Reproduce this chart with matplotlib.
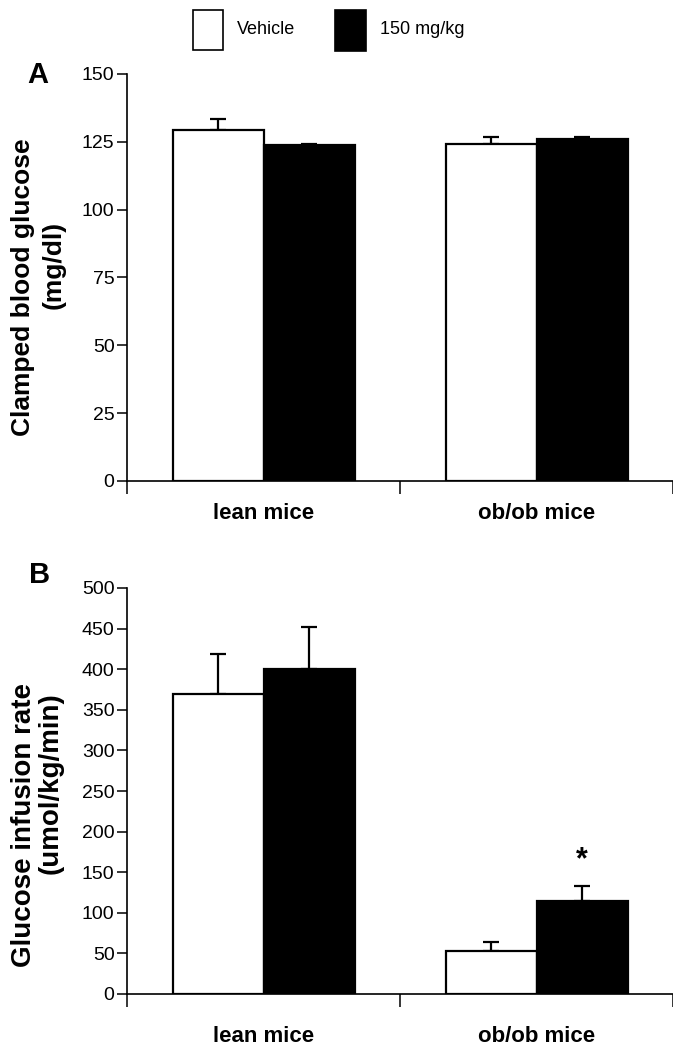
import matplotlib
matplotlib.use("Agg")
import matplotlib.pyplot as plt
import matplotlib.patches as mpatches
import numpy as np

plt.rcParams['font.family'] = ['Liberation Sans', 'DejaVu Sans']

groups = ["lean mice", "ob/ob mice"]
series = ["Vehicle", "150 mg/kg"]

# Panel A: clamped blood glucose (mg/dl)
a_vehicle = [129.4, 124.2]
a_vehicle_err = [4.0, 2.6]
a_treated = [123.8, 125.9]
a_treated_err = [0.5, 0.7]
a_ticks = [0, 25, 50, 75, 100, 125, 150]

# Panel B: glucose infusion rate (umol/kg/min)
b_vehicle = [370, 53]
b_vehicle_err = [49, 11]
b_treated = [400, 114]
b_treated_err = [52, 19]
b_ticks = [0, 50, 100, 150, 200, 250, 300, 350, 400, 450, 500]

W, H = 673, 1049
fig = plt.figure(figsize=(W / 100, H / 100), dpi=100)

def px_axes(left, top, right, bottom):
    return fig.add_axes([left / W, 1 - bottom / H, (right - left) / W, (bottom - top) / H])

bw = 1 / 3

def draw_panel(ax, veh, veh_err, trt, trt_err, ticks, ymax):
    x = np.arange(len(groups))
    ax.bar(x - bw / 2, veh, bw, color='white', edgecolor='black', linewidth=1.6, zorder=2)
    ax.bar(x + bw / 2, trt, bw, color='black', edgecolor='black', linewidth=1.6, zorder=2)
    ax.errorbar(x - bw / 2, veh, yerr=[np.zeros(len(veh)), veh_err], fmt='none',
                ecolor='black', elinewidth=1.6, capsize=6, capthick=1.6, zorder=1)
    ax.errorbar(x + bw / 2, trt, yerr=[np.zeros(len(trt)), trt_err], fmt='none',
                ecolor='black', elinewidth=1.6, capsize=6, capthick=1.6, zorder=1)
    ax.set_xlim(-0.5, 1.5)
    ax.set_ylim(0, ymax)
    ax.set_yticks(ticks)
    ax.set_yticklabels([str(t) for t in ticks], fontsize=14)
    ax.set_xticks([-0.5, 0.5, 1.5])
    ax.set_xticklabels([])
    ax.tick_params(axis='y', direction='out', length=7, width=1.1, pad=2)
    ax.tick_params(axis='x', direction='out', length=9, width=1.1)
    for s in ['top', 'right']:
        ax.spines[s].set_visible(False)
    for s in ['left', 'bottom']:
        ax.spines[s].set_linewidth(1.2)
    ax.patch.set_alpha(0)

axA = px_axes(127, 74, 673, 481)
draw_panel(axA, a_vehicle, a_vehicle_err, a_treated, a_treated_err, a_ticks, 150)
axB = px_axes(127, 588, 673, 994)
draw_panel(axB, b_vehicle, b_vehicle_err, b_treated, b_treated_err, b_ticks, 500)

# group labels
for ax, yb in [(axA, 519), (axB, 1042)]:
    for i, g in enumerate(groups):
        xd = ax.transData.transform((i, 0))[0]
        fig.text(xd / W, 1 - yb / H, g, ha='center', va='baseline',
                 fontsize=16, fontweight='bold')

# y labels
fig.text(23 / W, 1 - 287 / H, "Clamped blood glucose", rotation=90,
         ha='center', va='center', fontsize=19, fontweight='bold')
fig.text(54 / W, 1 - 265 / H, "(mg/dl)", rotation=90,
         ha='center', va='center', fontsize=19, fontweight='bold')
fig.text(24 / W, 1 - 825 / H, "Glucose infusion rate", rotation=90,
         ha='center', va='center', fontsize=20, fontweight='bold')
fig.text(51 / W, 1 - 783 / H, "(umol/kg/min)", rotation=90,
         ha='center', va='center', fontsize=20, fontweight='bold')

# panel letters
fig.text(38 / W, 1 - 75 / H, "A", ha='center', va='center', fontsize=21, fontweight='bold')
fig.text(40 / W, 1 - 575 / H, "B", ha='center', va='center', fontsize=21, fontweight='bold')

# significance star
star_x = axB.transData.transform((1 + bw / 2, 0))[0]
fig.text(star_x / W, 1 - 860 / H, "*", ha='center', va='center', fontsize=22, fontweight='bold')

# legend
fig.patches.append(mpatches.Rectangle((193 / W, 1 - 50 / H), 30 / W, 40 / H,
                                      transform=fig.transFigure, facecolor='white',
                                      edgecolor='black', linewidth=1.2))
fig.patches.append(mpatches.Rectangle((335 / W, 1 - 51 / H), 31 / W, 41 / H,
                                      transform=fig.transFigure, facecolor='black',
                                      edgecolor='black', linewidth=1.2))
fig.text(237 / W, 1 - 30 / H, series[0], ha='left', va='center', fontsize=13)
fig.text(380 / W, 1 - 30 / H, series[1], ha='left', va='center', fontsize=13)

fig.savefig("out.png", dpi=100)
